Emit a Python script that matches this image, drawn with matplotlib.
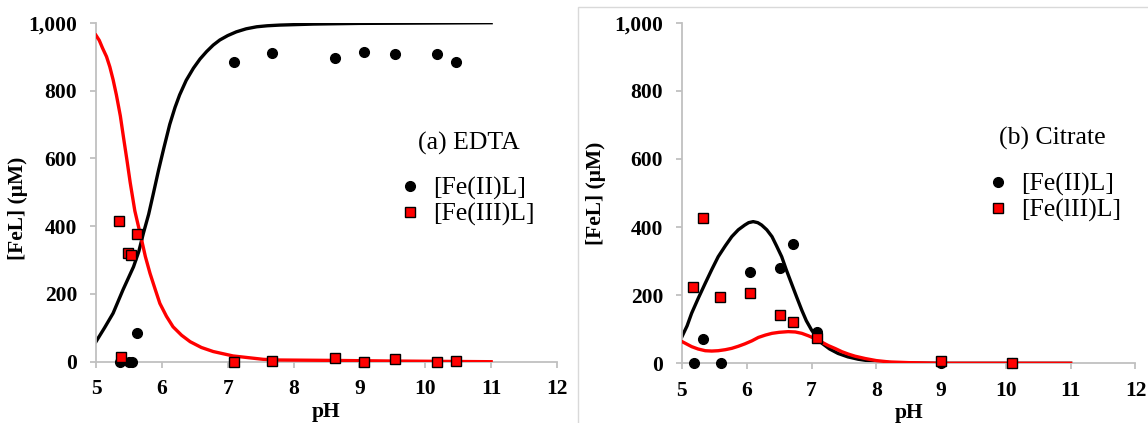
import matplotlib
matplotlib.use("Agg")
import matplotlib.pyplot as plt
import matplotlib.ticker as mtick
from matplotlib.lines import Line2D
from matplotlib.patches import Rectangle

plt.rcParams["font.family"] = ["Liberation Serif", "DejaVu Serif"]

# (a) EDTA - measured points
edta_fe2_ph = [5.36, 5.50, 5.55, 5.63, 7.09, 7.67, 8.63, 9.07, 9.54, 10.18, 10.47]
edta_fe2_val = [0, 0, 0, 86, 883, 912, 896, 914, 907, 907, 885]
edta_fe3_ph = [5.35, 5.38, 5.49, 5.53, 5.63, 7.09, 7.67, 8.63, 9.07, 9.54, 10.18, 10.47]
edta_fe3_val = [415, 15, 320, 315, 376, 0, 2, 10, 0, 7, 0, 2]

# (a) EDTA - model curves
edta_fe2_curve_ph = [5.0, 5.13, 5.26, 5.41, 5.57, 5.65, 5.72, 5.80, 5.87, 5.95, 6.03,
                     6.12, 6.20, 6.27, 6.37, 6.48, 6.58, 6.68, 6.78, 6.88, 7.0, 7.13,
                     7.28, 7.44, 7.6, 7.79, 8.3, 9.0, 10.0, 11.0]
edta_fe2_curve = [59, 100, 143, 212, 280, 325, 379, 435, 495, 565, 630,
                  700, 750, 787, 830, 866, 893, 915, 934, 949, 962, 973,
                  982, 988, 991, 993, 996, 998, 999, 1000]
edta_fe3_curve_ph = [5.0, 5.05, 5.1, 5.16, 5.21, 5.26, 5.31, 5.37, 5.42, 5.47, 5.52,
                     5.59, 5.65, 5.69, 5.75, 5.82, 5.9, 5.97, 6.07, 6.17, 6.3, 6.43,
                     6.6, 6.78, 7.08, 7.54, 7.79, 8.5, 9.5, 11.0]
edta_fe3_curve = [963, 948, 925, 900, 870, 832, 787, 725, 659, 595, 528,
                  445, 395, 362, 310, 261, 213, 172, 134, 103, 78, 59,
                  42, 30, 17, 7, 5, 4, 2, 0]

# (b) Citrate - measured points
cit_fe2_ph = [5.18, 5.33, 5.60, 6.05, 6.51, 6.72, 7.09, 9.00, 10.09]
cit_fe2_val = [0, 72, 0, 269, 281, 349, 93, 0, 0]
cit_fe3_ph = [5.17, 5.33, 5.59, 6.05, 6.51, 6.72, 7.09, 9.00, 10.09]
cit_fe3_val = [223, 426, 196, 206, 142, 122, 73, 7, 1]

# (b) Citrate - model curves
cit_fe2_curve_ph = [5.0, 5.08, 5.15, 5.25, 5.36, 5.46, 5.56, 5.67, 5.77, 5.87, 5.97,
                    6.03, 6.10, 6.17, 6.23, 6.31, 6.39, 6.46, 6.54, 6.61, 6.69, 6.77,
                    6.85, 6.92, 7.0, 7.08, 7.16, 7.28, 7.41, 7.56, 7.72, 7.86, 8.0,
                    8.15, 8.3, 9.0, 11.0]
cit_fe2_curve = [78, 110, 147, 190, 235, 275, 313, 345, 372, 392, 406,
                 413, 416, 413, 406, 392, 372, 345, 313, 275, 235, 195,
                 156, 125, 98, 77, 59, 42, 29, 19, 12, 8, 5,
                 3, 1, 0, 0]
cit_fe3_curve_ph = [5.0, 5.08, 5.15, 5.25, 5.36, 5.46, 5.56, 5.67, 5.77, 5.87, 5.97,
                    6.08, 6.18, 6.29, 6.39, 6.5, 6.64, 6.75, 6.85, 6.95, 7.05, 7.16,
                    7.26, 7.37, 7.47, 7.57, 7.67, 7.83, 8.0, 8.2, 8.5, 9.0, 11.0]
cit_fe3_curve = [64, 56, 49, 42, 37, 36, 37, 40, 44, 50, 57,
                 66, 76, 83, 88, 91, 93, 92, 88, 81, 73, 62,
                 52, 43, 34, 27, 21, 14, 8, 4, 2, 0, 0]

fig = plt.figure(figsize=(11.48, 4.23), dpi=100)
ax1 = fig.add_axes([0.0836, 0.1449, 0.4016, 0.8014])
ax2 = fig.add_axes([0.5940, 0.1411, 0.3951, 0.8052])

# light frame round the right panel
fig.patches.append(Rectangle((578 / 1148, -0.01), 0.6, 1.0 - 7 / 423 + 0.01,
                             transform=fig.transFigure, fill=False,
                             edgecolor="#d9d9d9", linewidth=1))

FS_TICK = 15.5
FS_LEG = 18.5


def style(ax, ylab_x, ylab_y):
    ax.set_xlim(5, 12)
    ax.set_ylim(0, 1000)
    ax.set_xticks(range(5, 13))
    ax.set_yticks(range(0, 1001, 200))
    ax.yaxis.set_major_formatter(mtick.StrMethodFormatter("{x:,.0f}"))
    for s in ["top", "right"]:
        ax.spines[s].set_visible(False)
    for s in ["left", "bottom"]:
        ax.spines[s].set_color("#c0c0c0")
        ax.spines[s].set_linewidth(1.3)
    ax.tick_params(direction="out", length=4.5, width=1.3, color="#c0c0c0",
                   labelsize=FS_TICK)
    ax.tick_params(axis="y", pad=9)
    ax.tick_params(axis="x", pad=8)
    for lab in ax.get_xticklabels() + ax.get_yticklabels():
        lab.set_fontweight("bold")
    ax.set_xlabel("pH", fontsize=FS_TICK, fontweight="bold", labelpad=2)
    ax.set_ylabel("[FeL] (μM)", fontsize=FS_TICK, fontweight="bold")
    ax.yaxis.set_label_coords(ylab_x, ylab_y)
    ax.patch.set_visible(False)


def panel(ax, fe2c_x, fe2c, fe3c_x, fe3c, fe2_x, fe2, fe3_x, fe3, title, fe3_label,
          tx, ty, lx, ly, ylab_x, ylab_y):
    ax.plot(fe2c_x, fe2c, color="black", lw=2.4, zorder=2,
            solid_joinstyle="round")
    ax.plot(fe3c_x, fe3c, color="#ff0000", lw=2.4, zorder=3,
            solid_joinstyle="round")
    ax.plot(fe2_x, fe2, "o", color="black", ms=7, zorder=4, clip_on=False)
    ax.plot(fe3_x, fe3, "s", mfc="#ff0000", mec="black", mew=1.0, ms=6.8,
            zorder=5, clip_on=False)
    style(ax, ylab_x, ylab_y)
    ax.text(tx, ty, title, transform=ax.transAxes, fontsize=FS_LEG,
            ha="center", va="center")
    handles = [
        Line2D([], [], ls="none", marker="o", color="black", ms=7),
        Line2D([], [], ls="none", marker="s", mfc="#ff0000", mec="black",
               mew=1.0, ms=6.8),
    ]
    ax.legend(handles, ["[Fe(II)L]", fe3_label], loc="center left",
              bbox_to_anchor=(lx, ly), frameon=False, fontsize=FS_LEG,
              handlelength=0.8, handletextpad=0.5, labelspacing=0.1,
              borderpad=0, borderaxespad=0)


panel(ax1, edta_fe2_curve_ph, edta_fe2_curve, edta_fe3_curve_ph, edta_fe3_curve,
      edta_fe2_ph, edta_fe2_val, edta_fe3_ph, edta_fe3_val,
      "(a) EDTA", "[Fe(III)L]", 0.809, 0.645, 0.659, 0.4726, -0.1475, 0.453)
panel(ax2, cit_fe2_curve_ph, cit_fe2_curve, cit_fe3_curve_ph, cit_fe3_curve,
      cit_fe2_ph, cit_fe2_val, cit_fe3_ph, cit_fe3_val,
      "(b) Citrate", "[Fe(lII)L]", 0.816, 0.661, 0.675, 0.487, -0.167, 0.50)

fig.savefig("out.png", dpi=100)
